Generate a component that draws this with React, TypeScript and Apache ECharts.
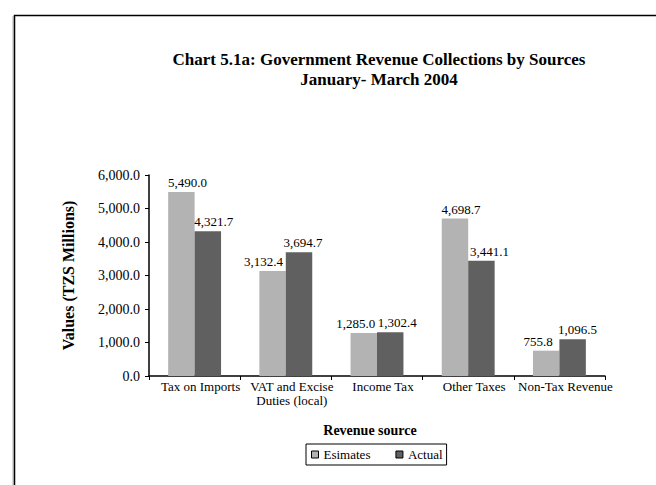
import React, { useEffect, useRef } from "react";
import * as echarts from "echarts";

const categories = [
  "Tax on Imports",
  "VAT and Excise\nDuties (local)",
  "Income Tax",
  "Other Taxes",
  "Non-Tax Revenue",
];
const estimates = [5490.0, 3132.4, 1285.0, 4698.7, 755.8];
const actual = [4321.7, 3694.7, 1302.4, 3441.1, 1096.5];
const seriesNames = ["Esimates", "Actual"];
const seriesColors = ["#b3b3b3", "#606060"];
const titleLines = [
  "Chart 5.1a: Government Revenue Collections by Sources",
  "January- March 2004",
];
const yAxisTitle = "Values (TZS Millions)";
const xAxisTitle = "Revenue source";
const yMin = 0;
const yMax = 6000;
const yStep = 1000;

// horizontal nudges of the value labels (pixels), as placed in the original chart
const estLabelShift = [6, -9, -8, 6, -8];
const actLabelShift = [6, 4, 7, 8, 5];

const SERIF = '"Liberation Serif", "Times New Roman", serif';

const fmt = (v: number) =>
  v.toLocaleString("en-US", { minimumFractionDigits: 1, maximumFractionDigits: 1 });

export default function App() {
  const ref = useRef<HTMLDivElement>(null);
  useEffect(() => {
    document.body.style.margin = "0";
    if (!ref.current) return;
    const chart = echarts.init(ref.current, null, { renderer: "svg" });
    const labelStyle = {
      show: true,
      position: "top" as const,
      distance: 3,
      fontFamily: SERIF,
      fontSize: 13,
      color: "#000",
      formatter: (p: any) => fmt(p.value),
    };
    const mk = (vals: number[], shifts: number[]) =>
      vals.map((v, i) => ({ value: v, label: { offset: [shifts[i], 0] } }));
    chart.setOption({
      animation: false,
      backgroundColor: "#fff",
      textStyle: { fontFamily: SERIF },
      grid: { left: 149, right: 51, top: 175, bottom: 109, containLabel: false },
      graphic: [
        {
          type: "polyline",
          shape: { points: [[13, 490], [13, 16]] },
          style: { stroke: "#b0b0b0", lineWidth: 1, fill: null },
          silent: true,
        },
        {
          type: "polyline",
          shape: { points: [[14.5, 490], [14.5, 15.5], [660, 15.5]] },
          style: { stroke: "#000", lineWidth: 1.5, fill: null },
          silent: true,
        },
        {
          type: "text",
          x: 379,
          y: 49,
          style: {
            text: titleLines.join("\n"),
            font: 'bold 17px "Liberation Serif", serif',
            textAlign: "center",
            textVerticalAlign: "top",
            lineHeight: 20,
            fill: "#000",
          },
        },
      ],
      legend: {
        data: seriesNames,
        left: 306,
        top: 444,
        orient: "horizontal",
        itemWidth: 7,
        itemHeight: 7,
        itemGap: 25,
        itemTextGap: 3,
        padding: [4, 4, 4, 5],
        borderColor: "#000",
        borderWidth: 1,
        icon: "rect",
        itemStyle: { borderColor: "#000", borderWidth: 1 },
        textStyle: { fontFamily: SERIF, fontSize: 13, color: "#000" },
      },
      xAxis: {
        type: "category",
        data: categories,
        name: xAxisTitle,
        nameLocation: "middle",
        nameGap: 47,
        nameTextStyle: {
          fontFamily: SERIF,
          fontSize: 14,
          fontWeight: "bold",
          color: "#000",
          padding: [0, 14, 0, 0],
        },
        axisLine: { lineStyle: { color: "#000", width: 1.5 } },
        axisTick: { show: true, length: 4, lineStyle: { color: "#000" } },
        axisLabel: {
          fontFamily: SERIF,
          fontSize: 13,
          color: "#000",
          margin: 3,
          lineHeight: 14,
          interval: 0,
          padding: [0, 0, 0, 12],
        },
      },
      yAxis: {
        type: "value",
        min: yMin,
        max: yMax,
        interval: yStep,
        name: yAxisTitle,
        nameLocation: "middle",
        nameGap: 73,
        nameTextStyle: { fontFamily: SERIF, fontSize: 16, fontWeight: "bold", color: "#000" },
        axisLine: { show: true, lineStyle: { color: "#000", width: 1.5 } },
        axisTick: { show: true, length: 4, lineStyle: { color: "#000" } },
        splitLine: { show: false },
        axisLabel: {
          fontFamily: SERIF,
          fontSize: 14,
          color: "#000",
          margin: 9,
          formatter: (v: number) => fmt(v),
        },
      },
      series: [
        {
          name: seriesNames[0],
          type: "bar",
          data: mk(estimates, estLabelShift),
          barGap: "0%",
          barCategoryGap: "42%",
          itemStyle: { color: seriesColors[0] },
          label: labelStyle,
        },
        {
          name: seriesNames[1],
          type: "bar",
          data: mk(actual, actLabelShift),
          barGap: "0%",
          barCategoryGap: "42%",
          itemStyle: { color: seriesColors[1] },
          label: labelStyle,
        },
      ],
    });
    return () => chart.dispose();
  }, []);
  return <div ref={ref} style={{ width: 656, height: 485 }} />;
}
